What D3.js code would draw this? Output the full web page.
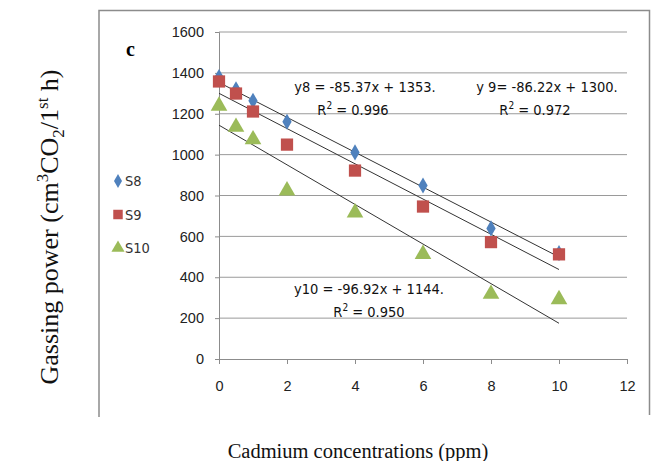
<!DOCTYPE html>
<html>
<head>
<meta charset="utf-8">
<script src="https://cdn.jsdelivr.net/npm/d3@7"></script>
<style>
  body { margin: 0; background: #fff; }
  .tick text { font-family: "Liberation Sans", Arial, sans-serif; font-size: 14.5px; fill: #222; }
  .eq { font-family: "DejaVu Sans Condensed", "Liberation Sans Narrow", sans-serif; font-size: 14.5px; fill: #111; }
</style>
</head>
<body>
<div id="chart"></div>
<script>
// Data
var conc = [0, 0.5, 1, 2, 4, 6, 8, 10];
var s8 = [1380, 1320, 1263, 1161, 1011, 849, 639, 518];
var s9 = [1358, 1299, 1211, 1049, 922, 746, 572, 512];
var s10 = [1238, 1135, 1074, 824, 716, 513, 318, 292];
var seriesNames = ["S8", "S9", "S10"];
var seriesColors = ["#4F81BD", "#C0504D", "#9BBB59"];
// trendline coefficients [slope, intercept]
var fits = [[-85.37, 1353], [-86.22, 1300], [-96.92, 1144]];
var xTicks = [0, 2, 4, 6, 8, 10, 12];
var yTicks = [0, 200, 400, 600, 800, 1000, 1200, 1400, 1600];

var svgWidth = 655;
var svgHeight = 461;

var svg = d3.select("#chart")
  .append("svg")
  .attr("width", svgWidth)
  .attr("height", svgHeight);

// chart frame (left, top, right)
svg.append("path")
  .attr("d", "M99,417V10.5H649.5V415")
  .attr("fill", "none")
  .attr("stroke", "#8c8c8c")
  .attr("stroke-width", 1.5);

var xScale = d3.scaleLinear().domain([0, 12]).range([219, 627]);
var yScale = d3.scaleLinear().domain([0, 1600]).range([359, 32]);

// gridlines
svg.append("g").selectAll("line")
  .data(yTicks.slice(1))
  .enter()
  .append("line")
  .attr("x1", xScale(0))
  .attr("x2", xScale(12))
  .attr("y1", function(d) { return yScale(d); })
  .attr("y2", function(d) { return yScale(d); })
  .attr("stroke", "#9a9a9a")
  .attr("stroke-width", 1);

var bottomAxis = d3.axisBottom(xScale).tickValues(xTicks).tickFormat(d3.format("d")).tickSize(5).tickPadding(17);
var leftAxis = d3.axisLeft(yScale).tickValues(yTicks).tickFormat(d3.format("d")).tickSize(4).tickPadding(11);

var gx = svg.append("g").attr("transform", "translate(0," + yScale(0) + ")").call(bottomAxis);
var gy = svg.append("g").attr("transform", "translate(" + xScale(0) + ",0)").call(leftAxis);
[gx, gy].forEach(function(g) {
  g.select(".domain").attr("stroke", "#8c8c8c");
  g.selectAll(".tick line").attr("stroke", "#8c8c8c");
});

// trendlines
svg.append("g").selectAll("line")
  .data(fits)
  .enter()
  .append("line")
  .attr("x1", xScale(0))
  .attr("x2", xScale(10))
  .attr("y1", function(d) { return yScale(d[1]); })
  .attr("y2", function(d) { return yScale(d[0] * 10 + d[1]); })
  .attr("stroke", "#333")
  .attr("stroke-width", 1);

// markers
var symbols = [d3.symbolDiamond, d3.symbolSquare, d3.symbolTriangle];
var sizes = [75, 150, 120];
var allSeries = [s8, s9, s10];

allSeries.forEach(function(vals, i) {
  svg.append("g").selectAll("path")
    .data(vals)
    .enter()
    .append("path")
    .attr("d", d3.symbol().type(symbols[i]).size(sizes[i]))
    .attr("transform", function(d, j) {
      return "translate(" + xScale(conc[j]) + "," + yScale(d) + ")";
    })
    .attr("fill", seriesColors[i]);
});

// legend
var legend = svg.append("g").selectAll("g")
  .data(seriesNames)
  .enter()
  .append("g")
  .attr("transform", function(d, i) { return "translate(118," + (181 + i * 33.5) + ")"; });
legend.append("path")
  .attr("d", function(d, i) { return d3.symbol().type(symbols[i]).size([55, 90, 75][i])(); })
  .attr("fill", function(d, i) { return seriesColors[i]; });
legend.append("text")
  .attr("x", 7)
  .attr("dy", "0.35em")
  .attr("class", "eq")
  .style("fill", "#333")
  .text(function(d) { return d; });

// equations
var eqs = [
  { t: "y8 = -85.37x + 1353.", r: "0.996", x: 365, y: 87 },
  { t: "y 9= -86.22x + 1300.", r: "0.972", x: 547, y: 87 },
  { t: "y10 = -96.92x + 1144.", r: "0.950", x: 369, y: 289 }
];
eqs.forEach(function(e) {
  svg.append("text").attr("class", "eq")
    .attr("x", e.x).attr("y", e.y + 5)
    .attr("text-anchor", "middle")
    .text(e.t);
  var r = svg.append("text").attr("class", "eq")
    .attr("x", e.x - (e.y > 200 ? 0 : 12)).attr("y", e.y + 28)
    .attr("text-anchor", "middle");
  r.append("tspan").text("R");
  r.append("tspan").attr("dy", -6).attr("font-size", "10px").text("2");
  r.append("tspan").attr("dy", 6).text(" = " + e.r);
});

// panel letter
svg.append("text")
  .attr("x", 126).attr("y", 56)
  .attr("font-family", "Liberation Serif, Times New Roman, serif")
  .attr("font-weight", "bold")
  .attr("font-size", "20px")
  .text("c");

// axis titles
var yt = svg.append("text")
  .attr("transform", "translate(58,227) rotate(-90)")
  .attr("text-anchor", "middle")
  .attr("font-family", "Liberation Serif, Times New Roman, serif")
  .attr("font-size", "26px")
  .attr("fill", "#111");
yt.append("tspan").text("Gassing power (cm");
yt.append("tspan").attr("dy", -10).attr("font-size", "17px").text("3");
yt.append("tspan").attr("dy", 10).text("CO");
yt.append("tspan").attr("dy", 6).attr("font-size", "17px").text("2");
yt.append("tspan").attr("dy", -6).text("/1");
yt.append("tspan").attr("dy", -10).attr("font-size", "17px").text("st");
yt.append("tspan").attr("dy", 10).text(" h)");

svg.append("text")
  .attr("x", 358).attr("y", 458)
  .attr("text-anchor", "middle")
  .attr("font-family", "Liberation Serif, Times New Roman, serif")
  .attr("font-size", "20.5px")
  .attr("fill", "#111")
  .text("Cadmium concentrations (ppm)");
</script>
</body>
</html>
